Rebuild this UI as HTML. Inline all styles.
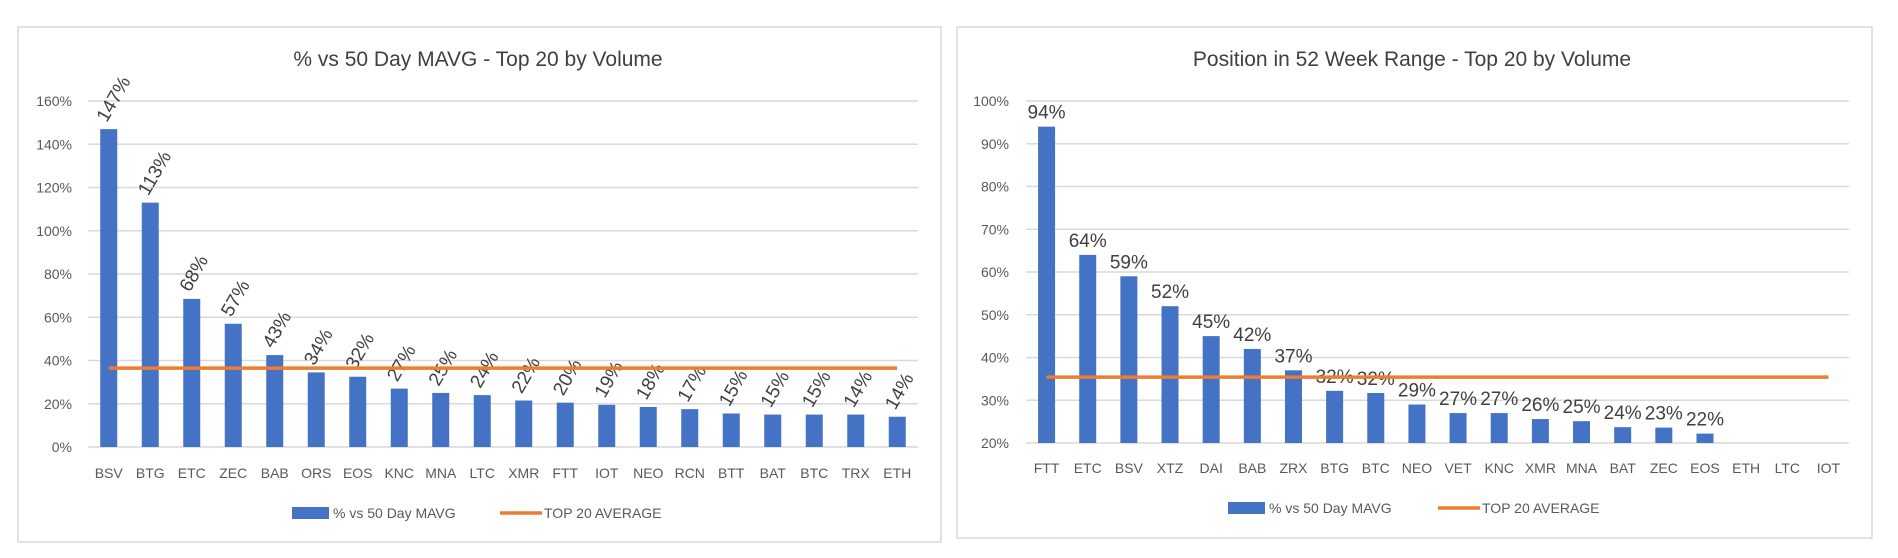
<!DOCTYPE html>
<html><head><meta charset="utf-8"><style>
html,body{margin:0;padding:0;background:#fff;}
svg{display:block;font-family:"Liberation Sans",sans-serif;}
</style></head><body>
<svg id="c" width="1898" height="558"></svg>
<script>
const leftCats=["BSV","BTG","ETC","ZEC","BAB","ORS","EOS","KNC","MNA","LTC","XMR","FTT","IOT","NEO","RCN","BTT","BAT","BTC","TRX","ETH"];
const leftVals=[147,113,68.5,57,42.5,34.5,32.5,27,25,24,21.5,20.5,19.5,18.5,17.5,15.5,15,15,15,14];
const leftLabels=["147%","113%","68%","57%","43%","34%","32%","27%","25%","24%","22%","20%","19%","18%","17%","15%","15%","15%","14%","14%"];
const leftTicks=[0,20,40,60,80,100,120,140,160];
const leftAvg=36.5;
const rightCats=["FTT","ETC","BSV","XTZ","DAI","BAB","ZRX","BTG","BTC","NEO","VET","KNC","XMR","MNA","BAT","ZEC","EOS","ETH","LTC","IOT"];
const rightVals=[94,64,59,52,45,42,37,32.2,31.7,29,27,27,25.6,25.1,23.7,23.6,22.2,null,null,null];
const rightLabels=["94%","64%","59%","52%","45%","42%","37%","32%","32%","29%","27%","27%","26%","25%","24%","23%","22%","","",""];
const rightTicks=[20,30,40,50,60,70,80,90,100];
const rightAvg=35.4;

const NS="http://www.w3.org/2000/svg";
const svg=document.getElementById('c');
function mk(tag,attrs,parent,text){const e=document.createElementNS(NS,tag);for(const k in attrs)e.setAttribute(k,attrs[k]);if(text!==undefined)e.textContent=text;(parent||svg).appendChild(e);return e;}

function chart(o){
  const g=mk('g',{});
  
  
  const fr=mk('rect',{x:o.bx,y:o.by,width:o.bw,height:o.bh,fill:'#fff',stroke:'#d9d9d9','stroke-width':1.5},g);
  
  
  const t=mk('text',{x:o.tx,y:66,'text-anchor':'middle','font-size':21,fill:'#404040'},g,o.title);
  
  
  const y=v=>o.y0-(v-o.vmin)/(o.vmax-o.vmin)*(o.y0-o.y1);
  const step=(o.x1-o.x0)/o.cats.length;
  const xc=i=>o.x0+step*(i+0.5);
  o.ticks.forEach(v=>{
    const l=mk('line',{x1:o.x0,x2:o.x1,y1:y(v),y2:y(v),stroke:'#d9d9d9','stroke-width':1.5},g);
    
    
    const tl=mk('text',{x:o.ylx,y:y(v)+5,'text-anchor':'end','font-size':14,fill:'#595959'},g,v+'%');
    
    
  });
  o.cats.forEach((c,i)=>{
    const xl=mk('text',{x:xc(i),y:o.xly,'text-anchor':'middle','font-size':14,fill:'#595959'},g,c);
    
    
    const v=o.vals[i];
    if(v===null)return;
    const b=mk('rect',{x:xc(i)-8.5,y:y(v),width:17,height:y(o.vmin)-y(v),fill:'#4472c4'},g);
    
    
    if(o.rot){
      const px=xc(i)-2, py=y(v)-6;
      const dl=mk('text',{x:px,y:py,'font-size':19,fill:'#404040',transform:`rotate(-60 ${px} ${py})`},g,o.labels[i]);
      
      
    }else{
      const dl=mk('text',{x:xc(i),y:y(v)-8,'text-anchor':'middle','font-size':19,fill:'#404040'},g,o.labels[i]);
      
      
    }
  });
  const av=mk('line',{x1:xc(0),x2:xc(o.cats.length-1),y1:y(o.avg),y2:y(o.avg),stroke:'#ed7d31','stroke-width':3.5},g);
  
  
  const lg=mk('g',{},g);
  
  
  const lb=mk('rect',{x:o.lbx,y:o.ly-6,width:37,height:12,fill:'#4472c4'},lg);
  
  
  const lt1=mk('text',{x:o.lbx+41,y:o.ly+5,'font-size':14,fill:'#595959'},lg,'% vs 50 Day MAVG');
  
  
  const lo=mk('line',{x1:o.lox,x2:o.lox+42,y1:o.ly,y2:o.ly,stroke:'#ed7d31','stroke-width':3.5},lg);
  
  
  const lt2=mk('text',{x:o.lox+44,y:o.ly+5,'font-size':14,fill:'#595959'},lg,'TOP 20 AVERAGE');
  
  
}
chart({name:'left-chart',bx:18,by:27,bw:923,bh:515,tx:478,title:'% vs 50 Day MAVG - Top 20 by Volume',
  x0:88,x1:918,y0:447,y1:101,vmin:0,vmax:160,ticks:leftTicks,cats:leftCats,vals:leftVals,labels:leftLabels,avg:leftAvg,
  ylx:72,xly:478,ly:513,lbx:292,lox:500,rot:true});
chart({name:'right-chart',bx:957,by:27,bw:915,bh:511,tx:1412,title:'Position in 52 Week Range - Top 20 by Volume',
  x0:1026,x1:1849,y0:443,y1:101,vmin:20,vmax:100,ticks:rightTicks,cats:rightCats,vals:rightVals,labels:rightLabels,avg:rightAvg,
  ylx:1009,xly:473,ly:508,lbx:1228,lox:1438,rot:false});
</script>
</body></html>
